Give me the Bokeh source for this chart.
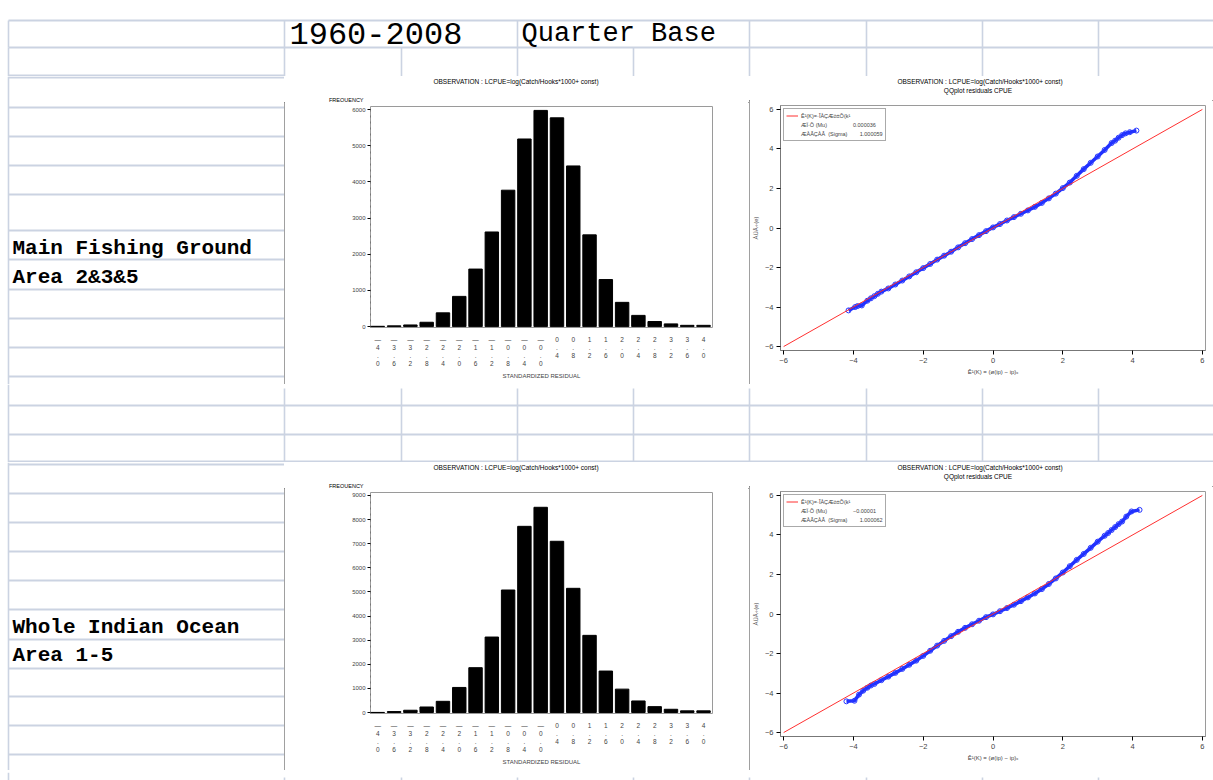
from bokeh.plotting import figure
from bokeh.models import Range1d, FixedTicker, Legend, LegendItem, Div
from bokeh.layouts import column, row
from bokeh.embed import file_html
from bokeh.resources import INLINE
from bokeh.core.properties import value

# ---------------- data ----------------
bin_centers = [-4.0, -3.6, -3.2, -2.8, -2.4, -2.0, -1.6, -1.2, -0.8, -0.4, 0.0,
               0.4, 0.8, 1.2, 1.6, 2.0, 2.4, 2.8, 3.2, 3.6, 4.0]
bin_labels = ["—\n4\n.\n0", "—\n3\n.\n6", "—\n3\n.\n2", "—\n2\n.\n8", "—\n2\n.\n4",
              "—\n2\n.\n0", "—\n1\n.\n6", "—\n1\n.\n2", "—\n0\n.\n8", "—\n0\n.\n4",
              "—\n0\n.\n0", "0\n.\n4", "0\n.\n8", "1\n.\n2", "1\n.\n6", "2\n.\n0",
              "2\n.\n4", "2\n.\n8", "3\n.\n2", "3\n.\n6", "4\n.\n0"]
freq_main = [8, 20, 45, 120, 380, 835, 1590, 2615, 3770, 5185, 5975,
             5770, 4440, 2535, 1300, 670, 310, 140, 75, 35, 35]
freq_whole = [5, 40, 95, 230, 465, 1040, 1860, 3130, 5080, 7720, 8510,
              7100, 5150, 3200, 1720, 970, 480, 245, 135, 70, 70]
freq_ticks_main = [0, 1000, 2000, 3000, 4000, 5000, 6000]
freq_ticks_whole = [0, 1000, 2000, 3000, 4000, 5000, 6000, 7000, 8000, 9000]

qq_theo_main = [-4.14, -3.95, -3.88, -3.76, -3.6, -3.5, -3.4, -3.3, -3.2, -3.0, -2.8,
                -2.6, -2.4, -2.2, -2.0, -1.8, -1.6, -1.4, -1.2, -1.0, -0.8, -0.6,
                -0.4, -0.2, 0.0, 0.2, 0.4, 0.6, 0.8, 1.0, 1.2, 1.4, 1.6, 1.8, 2.0,
                2.2, 2.4, 2.6, 2.8, 3.0, 3.2, 3.4, 3.5, 3.6, 3.7, 3.8, 3.92, 4.11]
qq_resid_main = [-4.17, -4.0, -3.95, -3.92, -3.68, -3.56, -3.45, -3.33, -3.22, -3.06, -2.86,
                 -2.66, -2.45, -2.24, -2.03, -1.82, -1.6, -1.4, -1.2, -0.98, -0.77, -0.56,
                 -0.36, -0.16, 0.03, 0.2, 0.38, 0.55, 0.72, 0.89, 1.07, 1.27, 1.5, 1.74, 2.02,
                 2.3, 2.64, 2.98, 3.3, 3.62, 3.95, 4.3, 4.42, 4.57, 4.7, 4.79, 4.85, 4.93]
qq_theo_whole = [-4.2, -3.97, -3.84, -3.72, -3.6, -3.5, -3.4, -3.2, -3.0, -2.8, -2.6,
                 -2.4, -2.2, -2.0, -1.8, -1.6, -1.4, -1.2, -1.0, -0.8, -0.6, -0.4,
                 -0.2, 0.0, 0.2, 0.4, 0.6, 0.8, 1.0, 1.2, 1.4, 1.6, 1.8, 2.0, 2.2,
                 2.4, 2.6, 2.8, 3.0, 3.2, 3.3, 3.4, 3.5, 3.6, 3.7, 3.82, 3.97, 4.2]
qq_resid_whole = [-4.42, -4.39, -4.08, -3.88, -3.73, -3.62, -3.54, -3.35, -3.17, -2.98, -2.78,
                  -2.57, -2.36, -2.12, -1.86, -1.6, -1.36, -1.12, -0.9, -0.7, -0.52, -0.34,
                  -0.16, -0.02, 0.14, 0.3, 0.47, 0.65, 0.84, 1.04, 1.26, 1.52, 1.8, 2.1, 2.42,
                  2.74, 3.04, 3.35, 3.66, 3.96, 4.1, 4.25, 4.4, 4.55, 4.68, 4.93, 5.19, 5.27]
qq_ref = [-6, 6]
qq_ticks = [-6, -4, -2, 0, 2, 4, 6]
qq_tick_labels = ["−6", "−4", "−2", "0", "2", "4", "6"]
mu_main, sigma_main = "0.000036", "1.000059"
mu_whole, sigma_whole = "−0.00001", "1.000062"

title_obs = "OBSERVATION : LCPUE=log(Catch/Hooks*1000+ const)"
title_qq = "QQplot residuals CPUE"
legend_ref = "Ê¹(K)=·ÎÀÇÆò±Õ(k¹"
legend_mu = "ÆÏ·Õ (Mu)"
legend_sigma = "ÆÀÂÇÀÂ  (Sigma)"
qq_xlabel = "Ê¹(K) = (ø(ip) − ip)ₓ"
qq_ylabel = "ÀÜÂ÷(e)"

# ---------------- style ----------------
GRID = "#cbd3e2"
SHEET_FONT = value("Liberation Mono")
CHART_FONT = "Liberation Sans"
BORDER = {"outline": "1px solid #808080", "outline-offset": "-1px"}


def sheet(width, x0, y0, y1):
    p = figure(width=width, height=y1 - y0, x_range=Range1d(x0, x0 + width),
               y_range=Range1d(y1, y0), min_border=0, toolbar_location=None,
               output_backend="svg", x_axis_location=None, y_axis_location=None,
               outline_line_color=None, frame_align=False)
    p.grid.visible = False
    return p


def hlines(p, ys, x0, x1, w=2):
    p.segment(x0=[x0] * len(ys), x1=[x1] * len(ys), y0=ys, y1=ys, line_color=GRID, line_width=w)


def vlines(p, xs, y0, y1, w=1.6):
    p.segment(x0=xs, x1=xs, y0=[y0] * len(xs), y1=[y1] * len(xs), line_color=GRID, line_width=w)


def sheet_text(p, xs, ys, texts, size, style="bold"):
    p.text(x=xs, y=ys, text=texts, text_font=SHEET_FONT, text_font_size=size,
           text_baseline="middle", text_align="left", text_color="black",
           text_font_style=style)


def head(width, height, items):
    """HTML strip above a chart: items are (left, top, text, font size, centered)."""
    parts = []
    for x, y, t, fs, centered in items:
        tr = "transform:translateX(-50%);" if centered else ""
        parts.append(
            f'<div style="position:absolute;left:{x}px;top:{y}px;{tr}white-space:nowrap;'
            f"font-family:'Liberation Sans';font-size:{fs};line-height:1;color:#000\">{t}</div>")
    html = (f'<div style="position:relative;width:{width}px;height:{height}px;overflow:hidden;'
            f'background:#fff">{"".join(parts)}</div>')
    return Div(width=width, height=height, text=html, margin=0)


# ---------------- spreadsheet pieces ----------------
top = sheet(1213, 0, 0, 76)
hlines(top, [20, 47], 8, 1213)
hlines(top, [75], 8, 284)
vlines(top, [8, 284, 517, 749, 866, 982, 1098], 20, 47)
vlines(top, [8, 284, 401, 517, 633, 749, 866, 982, 1098], 47, 76)
sheet_text(top, [289], [33], ["1960-2008"], "32px", "normal")
sheet_text(top, [521], [33], ["Quarter Base"], "27px", "normal")

left1 = sheet(284, 0, 76, 384)
hlines(left1, [77, 107, 136, 165, 194, 230, 259, 289, 318, 347, 376], 8, 284)
vlines(left1, [8], 76, 384)
sheet_text(left1, [12, 12], [248, 277], ["Main Fishing Ground", "Area 2&3&5"], "21px")

mid = sheet(1213, 0, 384, 462)
hlines(mid, [405, 434, 461], 8, 1213)
vlines(mid, [8], 384, 462)
vlines(mid, [284, 401, 517, 633, 749, 866, 982, 1098], 388, 462)

left2 = sheet(284, 0, 462, 770)
hlines(left2, [464, 493, 522, 551, 580, 609, 639, 668, 696, 725, 754], 8, 284)
vlines(left2, [8], 462, 770)
sheet_text(left2, [12, 12], [627, 655], ["Whole Indian Ocean", "Area 1-5"], "21px")

bottom = sheet(1213, 0, 770, 780)
vlines(bottom, [8], 770, 780)
vlines(bottom, [284, 401, 517, 633, 749, 866, 982, 1098], 775, 780)


# ---------------- charts ----------------
def hist_fig(freqs, yticks, ytop, ybot):
    p = figure(width=465, height=282, x_range=Range1d(-4.18, 4.22),
               y_range=Range1d(ybot, ytop), min_border_left=86, min_border_right=37,
               min_border_top=4, min_border_bottom=57, toolbar_location=None,
               output_backend="svg", frame_align=False)
    p.grid.visible = False
    p.outline_line_color = "#9a9a9a"
    p.vbar(x=bin_centers, top=freqs, width=0.33, fill_color="black", line_color="black")

    xa = p.xaxis[0]
    xa.ticker = FixedTicker(ticks=bin_centers)
    xa.major_label_overrides = {c: l for c, l in zip(bin_centers, bin_labels)}
    xa.major_tick_line_color = None
    xa.major_tick_out = 0
    xa.major_tick_in = 0
    xa.minor_tick_line_color = None
    xa.axis_line_color = None
    xa.major_label_text_font = CHART_FONT
    xa.major_label_text_font_size = "6.5px"
    xa.major_label_text_line_height = 1.15
    xa.major_label_standoff = 8
    xa.axis_label = "STANDARDIZED RESIDUAL"
    xa.axis_label_text_font = CHART_FONT
    xa.axis_label_text_font_size = "6px"
    xa.axis_label_text_font_style = "normal"
    xa.axis_label_standoff = 3

    ya = p.yaxis[0]
    ya.ticker = FixedTicker(ticks=yticks)
    ya.minor_tick_line_color = None
    ya.major_tick_in = 0
    ya.major_tick_out = 3
    ya.axis_line_color = "#777777"
    ya.axis_line_dash = "dotted"
    ya.major_label_text_font = CHART_FONT
    ya.major_label_text_font_size = "6px"
    ya.major_label_standoff = 2

    hd = head(465, 26, [(232, 3, title_obs, "6.5px", True),
                        (45, 22, "FREQUENCY", "5.5px", False)])
    return column(hd, p, spacing=0, styles=BORDER)


def qq_fig(theo, resid, mu, sigma):
    p = figure(width=464, height=284, x_range=Range1d(-6.09, 6.09),
               y_range=Range1d(-6.2, 6.2), min_border_left=31, min_border_right=8,
               min_border_top=5, min_border_bottom=34, toolbar_location=None,
               output_backend="svg", frame_align=False)
    p.grid.visible = False
    p.outline_line_color = "#9a9a9a"

    p.line(theo, resid, line_color="#2030ff", line_width=3.5)
    p.scatter(theo, resid, marker="circle", size=5, fill_color=None,
              line_color="#2838ff", line_width=1)
    ref = p.line(qq_ref, qq_ref, line_color="#ff3030", line_width=1)
    blank1 = p.scatter([], [], alpha=0)
    blank2 = p.scatter([], [], alpha=0)

    for ax in (p.xaxis[0], p.yaxis[0]):
        ax.ticker = FixedTicker(ticks=qq_ticks)
        ax.major_label_overrides = {t: l for t, l in zip(qq_ticks, qq_tick_labels)}
        ax.minor_tick_line_color = None
        ax.major_tick_in = 0
        ax.major_tick_out = 4
        ax.axis_line_color = "#777777"
        ax.major_label_text_font = CHART_FONT
        ax.major_label_text_font_size = "7.5px"
        ax.major_label_standoff = 3
        ax.axis_label_text_font = CHART_FONT
        ax.axis_label_text_font_size = "6px"
        ax.axis_label_text_font_style = "normal"
        ax.axis_label_standoff = 3
    p.xaxis[0].axis_label = qq_xlabel
    p.yaxis[0].axis_label = qq_ylabel

    leg = Legend(items=[LegendItem(label=legend_ref, renderers=[ref]),
                        LegendItem(label=legend_mu + "                 " + mu, renderers=[blank1]),
                        LegendItem(label=legend_sigma + "        " + sigma, renderers=[blank2])],
                 location="top_left", margin=3, padding=2, spacing=0,
                 label_height=9, glyph_height=9, glyph_width=12, label_standoff=3,
                 label_text_font=CHART_FONT, label_text_font_size="5.5px",
                 border_line_color="#555555", background_fill_alpha=1)
    p.add_layout(leg, "center")

    hd = head(464, 24, [(231, 3, title_obs, "6.5px", True),
                        (229, 12, title_qq, "6.5px", True)])
    return column(hd, p, spacing=0, styles=BORDER)


h1 = hist_fig(freq_main, freq_ticks_main, 6083, -25)
q1 = qq_fig(qq_theo_main, qq_resid_main, mu_main, sigma_main)
h2 = hist_fig(freq_whole, freq_ticks_whole, 9123, -40)
q2 = qq_fig(qq_theo_whole, qq_resid_whole, mu_whole, sigma_whole)

layout = column(top, row(left1, h1, q1, spacing=0), mid, row(left2, h2, q2, spacing=0),
                bottom, spacing=0)

open("out.html", "w").write(file_html(layout, INLINE))
